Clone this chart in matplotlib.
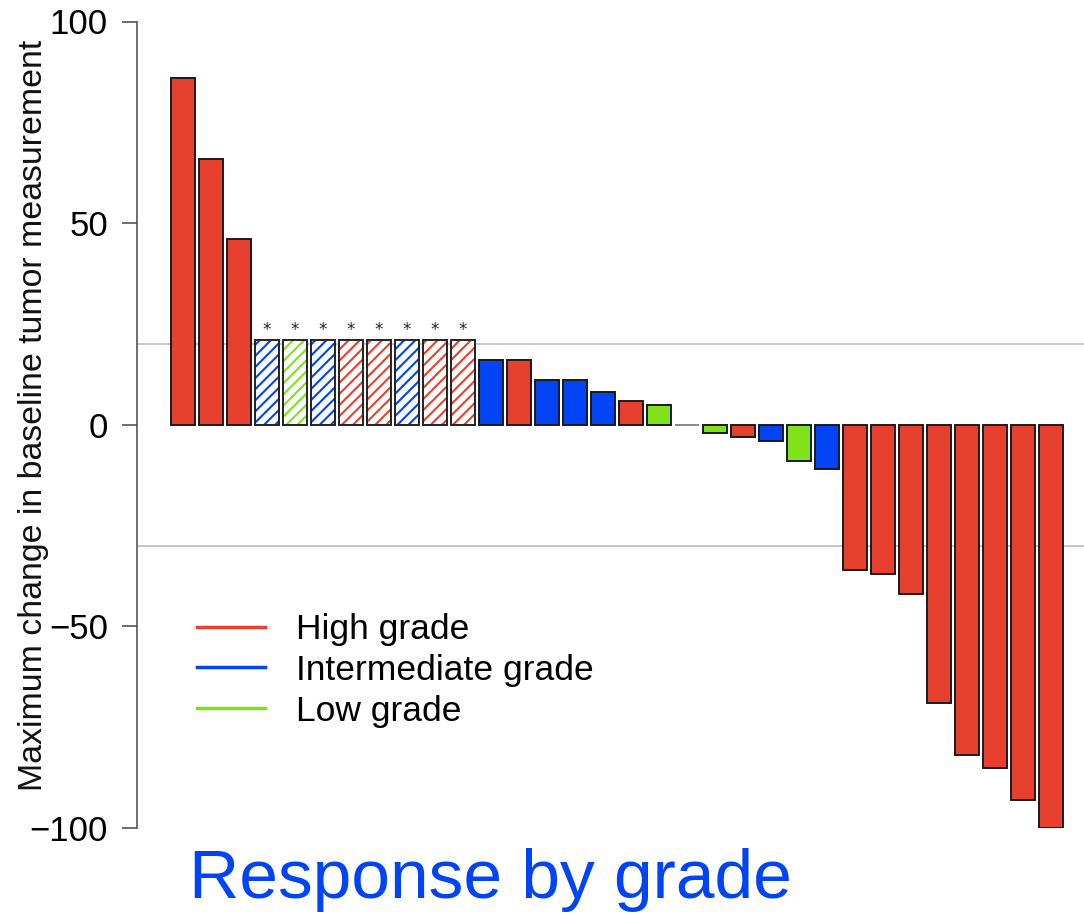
import matplotlib
matplotlib.use("Agg")
import matplotlib.pyplot as plt
from matplotlib.lines import Line2D
import warnings
warnings.filterwarnings("ignore")

# ---- data ----
values = [86, 66, 46, 21, 21, 21, 21, 21, 21, 21, 21, 16, 16, 11, 11, 8, 6, 5, 0,
          -2, -3, -4, -9, -11, -36, -37, -42, -69, -82, -85, -93, -100]
grades = ["High", "High", "High",
          "Intermediate", "Low", "Intermediate", "High", "High", "Intermediate", "High", "High",
          "Intermediate", "High", "Intermediate", "Intermediate", "Intermediate", "High", "Low",
          "None",
          "Low", "High", "Intermediate", "Low", "Intermediate",
          "High", "High", "High", "High", "High", "High", "High", "High"]
starred = [False] * 3 + [True] * 8 + [False] * 21
legend_labels = ["High grade", "Intermediate grade", "Low grade"]
ref_lines = [20, -30]
yticks = [100, 50, 0, -50, -100]
ytick_labels = ["100", "50", "0", "\u221250", "\u2212100"]
ylabel = "Maximum change in baseline tumor measurement"
title = "Response by grade"

colors = {"High": "#E8402F", "Intermediate": "#0044F5", "Low": "#7FE21B", "None": "#888888"}

W, H = 1084, 914
fig = plt.figure(figsize=(W / 100, H / 100), dpi=100)
ax = fig.add_axes([137 / W, (H - 828) / H, 1 - 137 / W, (828 - 21.5) / H])

slot = 28.0
x0 = 183.0
xs = list(range(len(values)))
ax.set_xlim(-(x0 - 137) / slot, (W - x0) / slot)
ax.set_ylim(-100, 100)

plt.rcParams["hatch.linewidth"] = 1.5

for ln in ref_lines:
    ax.axhline(ln, color="#bdbdbd", lw=1.2, zorder=1)

bw = 24 / slot
for x, v, g, s in zip(xs, values, grades, starred):
    c = colors[g]
    if s:
        ax.bar(x, v, width=bw, color="white", hatch="///", edgecolor=c, linewidth=0, zorder=2)
        ax.bar(x, v, width=bw, fill=False, edgecolor="#222222", linewidth=1.4, zorder=3)
        ax.annotate("*", (x, v), xytext=(0, 1), textcoords="offset points",
                    ha="center", va="bottom", fontsize=12, color="#222222")
    elif g == "None":
        ax.bar(x, v, width=bw, color=c, edgecolor="#888888", linewidth=1.4, zorder=3)
    else:
        ax.bar(x, v, width=bw, color=c, edgecolor="#1a1a1a", linewidth=1.4, zorder=3)

for sp in ["top", "right", "bottom"]:
    ax.spines[sp].set_visible(False)
ax.spines["left"].set_color("#555555")
ax.spines["left"].set_linewidth(1.2)
ax.set_xticks([])
ax.set_yticks(yticks)
ax.set_yticklabels(ytick_labels, family=["Liberation Sans", "DejaVu Sans"], fontsize=25)
ax.tick_params(axis="y", length=11, width=1.2, color="#555555", pad=10)

fig.text(34 / W, 1 - 415 / H, ylabel, rotation=90, ha="center", va="center",
         fontsize=24.4, family=["Liberation Sans Narrow", "Liberation Sans"], color="#111111")

handles = [Line2D([0], [0], color=colors[k], lw=2.5) for k in ["High", "Intermediate", "Low"]]
fig.legend(handles, legend_labels, loc="upper left", bbox_to_anchor=(197 / W, 1 - 613 / H),
           frameon=False, prop={"family": "Liberation Sans", "size": 25.5},
           handlelength=1.92, handletextpad=0.875, labelspacing=0.22, borderpad=0, borderaxespad=0)

fig.text(490 / W, 1 - 898 / H, title, ha="center", va="baseline", fontsize=50,
         family="Liberation Sans", color="#0044F5")

fig.savefig("out.png", dpi=100)
